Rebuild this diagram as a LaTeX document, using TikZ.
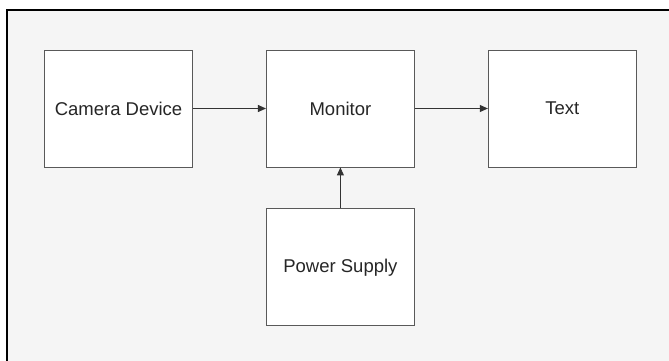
\documentclass[tikz,border=0pt]{standalone}
\usepackage{fontspec}
\setmainfont{Liberation Sans}
\usetikzlibrary{positioning,arrows.meta}
\definecolor{pagebg}{HTML}{F5F5F5}

\begin{document}
\begin{tikzpicture}[
    x=1pt, y=1pt,
    block/.style={draw=black!65, fill=white, line width=0.9pt, minimum width=148pt, minimum height=117pt, inner sep=0pt, text=black!85, font=\fontsize{18.5}{21}\selectfont},
    link/.style={draw=black!80, line width=0.9pt, -{Triangle[length=8pt,width=7pt]}}
]
\useasboundingbox (0,0) rectangle (669,361);
\fill[pagebg] (7,0) rectangle (669,351);
\draw[line width=1.5pt] (7,0) -- (7,351) -- (669,351);

\node[block] (camera) at (118.5,252.5) {Camera Device};
\node[block, right=73pt of camera] (monitor) {Monitor};
\node[block, right=73pt of monitor] (text) {Text};
\node[block, below=41pt of monitor] (power) {Power Supply};

\draw[link] (camera) -- (monitor);
\draw[link] (monitor) -- (text);
\draw[link] (power) -- (monitor);
\end{tikzpicture}
\end{document}
